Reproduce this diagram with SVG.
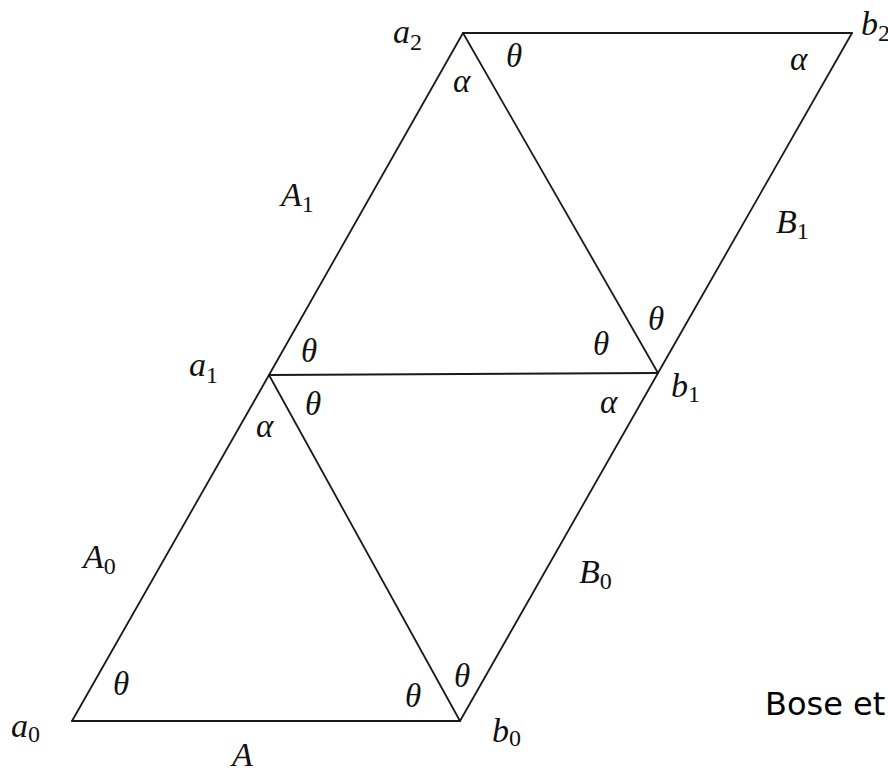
<svg xmlns="http://www.w3.org/2000/svg" width="888" height="770" viewBox="0 0 888 770">
<style>
.e{stroke:#1a1a1a;stroke-width:1.8;fill:none;stroke-linecap:round}
.m{font-family:"Liberation Serif","Times New Roman",serif;font-style:italic;font-size:34px;fill:#111}
.s{font-style:normal;font-size:24px}
.g{font-family:"Liberation Serif","Times New Roman",serif;font-style:italic;font-size:33px;fill:#111}
.cap{font-family:"DejaVu Sans",sans-serif;font-size:32px;fill:#000}
</style>
<rect width="888" height="770" fill="#fff"/>
<g id="edges">
<line class="e" x1="72" y1="721" x2="460" y2="721"/>
<line class="e" x1="72" y1="721" x2="269" y2="375"/>
<line class="e" x1="269" y1="375" x2="460" y2="721"/>
<line class="e" x1="460" y1="721" x2="658" y2="373"/>
<line class="e" x1="269" y1="375" x2="658" y2="373"/>
<line class="e" x1="269" y1="375" x2="463" y2="33"/>
<line class="e" x1="463" y1="33" x2="658" y2="373"/>
<line class="e" x1="658" y1="373" x2="852" y2="33"/>
<line class="e" x1="463" y1="33" x2="852" y2="33"/>
</g>
<g id="vertex-labels">
<text id="a0" class="m" x="11" y="737">a<tspan class="s" dy="5">0</tspan></text>
<text id="b0" class="m" x="492" y="742">b<tspan class="s" dy="4">0</tspan></text>
<text id="a1" class="m" x="189" y="376">a<tspan class="s" dy="7">1</tspan></text>
<text id="b1" class="m" x="671" y="397">b<tspan class="s" dy="5">1</tspan></text>
<text id="a2" class="m" x="393" y="43">a<tspan class="s" dy="7">2</tspan></text>
<text id="b2" class="m" x="861" y="35">b<tspan class="s" dy="6">2</tspan></text>
</g>
<g id="side-labels">
<text class="m" x="232" y="766">A</text>
<text class="m" x="83" y="568">A<tspan class="s" dy="6">0</tspan></text>
<text class="m" x="281" y="206">A<tspan class="s" dy="6">1</tspan></text>
<text class="m" x="579" y="583">B<tspan class="s" dy="6">0</tspan></text>
<text class="m" x="776" y="233">B<tspan class="s" dy="6">1</tspan></text>
</g>
<g id="angles">
<text class="g" x="113" y="695">θ</text>
<text class="g" x="405" y="707">θ</text>
<text class="g" x="454" y="687">θ</text>
<text class="g" x="256" y="437">α</text>
<text class="g" x="305" y="415">θ</text>
<text class="g" x="301" y="362">θ</text>
<text class="g" x="593" y="355">θ</text>
<text class="g" x="648" y="330">θ</text>
<text class="g" x="600" y="413">α</text>
<text class="g" x="506" y="67">θ</text>
<text class="g" x="453" y="92">α</text>
<text class="g" x="790" y="70">α</text>
</g>
<text class="cap" x="765" y="715">Bose et</text>
</svg>
